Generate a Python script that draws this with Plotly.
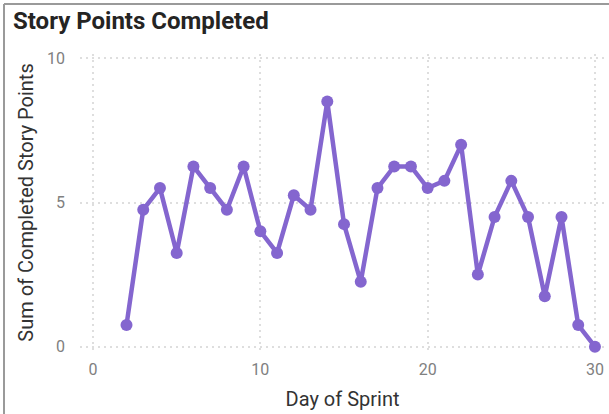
"""Story points completed per sprint day, line chart."""

import plotly.graph_objects as go

days = list(range(2, 31))
story_points = [
    0.75, 4.75, 5.5, 3.25, 6.25, 5.5, 4.75, 6.25, 4.0, 3.25,
    5.25, 4.75, 8.5, 4.25, 2.25, 5.5, 6.25, 6.25, 5.5, 5.75,
    7.0, 2.5, 4.5, 5.75, 4.5, 1.75, 4.5, 0.75, 0.0,
]
x_ticks = [0, 10, 20, 30]
y_ticks = [0, 5, 10]

PURPLE = "#8466cf"
GRID = "#dedede"

fig = go.Figure(
    go.Scatter(
        x=days,
        y=story_points,
        mode="lines+markers",
        line=dict(color=PURPLE, width=4.5),
        marker=dict(color=PURPLE, size=12),
        cliponaxis=False,
    )
)

fig.update_layout(
    width=609,
    height=414,
    margin=dict(l=80, r=4, t=54, b=63),
    paper_bgcolor="white",
    plot_bgcolor="white",
    showlegend=False,
    font=dict(family="Roboto", color="#777777"),
    title=dict(
        text="<b>Story Points Completed</b>",
        x=13 / 609,
        xanchor="left",
        y=1 - 21 / 414,
        yanchor="middle",
        font=dict(size=24, color="#252423", family="Roboto"),
    ),
)

fig.update_xaxes(
    range=[-0.78, 30.6],
    tickvals=x_ticks,
    showgrid=True,
    gridcolor=GRID,
    griddash="2px,4px",
    gridwidth=1.5,
    zeroline=False,
    showline=False,
    ticks="",
    ticklabelstandoff=7,
    tickfont=dict(size=16, color="#808080"),
    title=dict(text="Day of Sprint", font=dict(size=20, color="#333333"), standoff=13),
)

fig.update_yaxes(
    range=[-0.15, 10.15],
    tickvals=y_ticks,
    showgrid=True,
    gridcolor=GRID,
    griddash="2px,4px",
    gridwidth=1.5,
    zeroline=False,
    showline=False,
    ticks="",
    ticklabelstandoff=14,
    tickfont=dict(size=16, color="#808080"),
    title=dict(text="Sum of Completed Story Points", font=dict(size=20, color="#333333"), standoff=8),
)

# outer card border, visible on top and left only
fig.add_shape(
    type="line", xref="paper", yref="paper",
    x0=-76 / 525, x1=1.2, y0=1 + 50 / 297, y1=1 + 50 / 297,
    line=dict(color="#9a9a9a", width=2),
)
fig.add_shape(
    type="line", xref="paper", yref="paper",
    x0=-76 / 525, x1=-76 / 525, y0=-0.3, y1=1 + 50 / 297,
    line=dict(color="#9a9a9a", width=2),
)

fig.write_html(
    "out.html",
    config={"displayModeBar": False},
    post_script="document.body.style.margin='0';",
)
